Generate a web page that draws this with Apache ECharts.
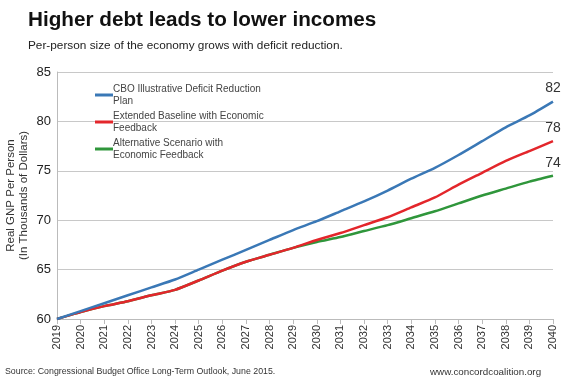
<!DOCTYPE html>
<html><head><meta charset="utf-8">
<script src="https://cdn.jsdelivr.net/npm/echarts@6/dist/echarts.min.js"></script>
<style>html,body{margin:0;padding:0;background:#fff}#c{width:575px;height:384px}</style>
</head><body><div id="c"></div>
<script>
const years = ['2019','2020','2021','2022','2023','2024','2025','2026','2027','2028','2029','2030','2031','2032','2033','2034','2035','2036','2037','2038','2039','2040'];
const cboPlan = [60,60.8,61.6,62.4,63.2,64.0,65.0,66.0,67.0,68.0,69.0,69.9,70.9,71.9,73.0,74.2,75.3,76.6,78.0,79.4,80.6,82];
const extendedBaseline = [60,60.7,61.3,61.8,62.4,62.95,63.9,64.9,65.8,66.5,67.2,68.0,68.7,69.5,70.3,71.3,72.3,73.6,74.8,76.0,77.0,78];
const altScenario = [60,60.7,61.3,61.8,62.4,62.95,63.9,64.9,65.8,66.5,67.2,67.8,68.3,68.9,69.5,70.2,70.9,71.7,72.5,73.2,73.9,74.5];
const seriesNames = ['CBO Illustrative Deficit Reduction\nPlan','Extended Baseline with Economic\nFeedback','Alternative Scenario with\nEconomic Feedback'];
const endLabels = ['82','78','74'];
const colors = ['#3a78b6','#e3262b','#2f963b'];

const FONT = 'Liberation Sans, Arial, sans-serif';
function withEnd(arr, lbl){
  return arr.map((v,i)=> i===arr.length-1 ? {value:v,label:{show:true,position:'top',formatter:lbl,fontSize:14,color:'#333',fontFamily:FONT,distance:6}} : v);
}
const chart = echarts.init(document.getElementById('c'));
const datasets=[cboPlan,extendedBaseline,altScenario];
chart.setOption({
  animation:false,
  textStyle:{fontFamily:FONT},
  title:[
    {text:'Higher debt leads to lower incomes',left:23,top:5,textStyle:{fontSize:20.7,fontWeight:'bold',color:'#111',fontFamily:FONT}},
    {text:'Per-person size of the economy grows with deficit reduction.',left:23,top:35,textStyle:{fontSize:11.8,fontWeight:'normal',color:'#222',fontFamily:FONT}},
    {text:'Source: Congressional Budget Office Long-Term Outlook, June 2015.',left:0,top:362,textStyle:{fontSize:8.8,fontWeight:'normal',color:'#333',fontFamily:FONT}},
    {text:'www.concordcoalition.org',left:425,top:362,textStyle:{fontSize:9.8,fontWeight:'normal',color:'#333',fontFamily:FONT}}
  ],
  legend:{
    orient:'vertical',left:90,top:72,itemWidth:18,itemHeight:3,itemGap:-9,
    icon:'rect',
    data:seriesNames,
    textStyle:{fontSize:10,lineHeight:12,color:'#444',fontFamily:FONT,padding:[12,0,0,-5]}
  },
  grid:{left:57,right:22,top:72,bottom:65,outerBoundsMode:'none',containLabel:false},
  xAxis:{
    type:'category',data:years,boundaryGap:false,
    axisLine:{lineStyle:{color:'#bbb'}},
    axisTick:{show:true,alignWithLabel:true,lineStyle:{color:'#bbb'}},
    axisLabel:{rotate:90,fontSize:11,color:'#333',margin:6,interval:0}
  },
  yAxis:{
    type:'value',min:60,max:85,interval:5,
    name:'Real GNP Per Person\n(In Thousands of Dollars)',
    nameLocation:'middle',nameGap:27,nameRotate:90,nameMoveOverlap:false,
    nameTextStyle:{fontSize:11.5,color:'#333',lineHeight:13,fontFamily:FONT},
    axisLine:{show:true,lineStyle:{color:'#bbb'}},
    axisTick:{show:false},
    axisLabel:{fontSize:13,color:'#222',margin:6},
    splitLine:{lineStyle:{color:'#c8c8c8'}}
  },
  series: seriesNames.map((n,i)=>({
    name:n,type:'line',data:withEnd(datasets[i],endLabels[i]),
    showSymbol:true,symbol:'circle',symbolSize:0,smooth:0.2,z:10-i,
    lineStyle:{width:2.5,color:colors[i]},itemStyle:{color:colors[i]}
  }))
});
</script></body></html>
